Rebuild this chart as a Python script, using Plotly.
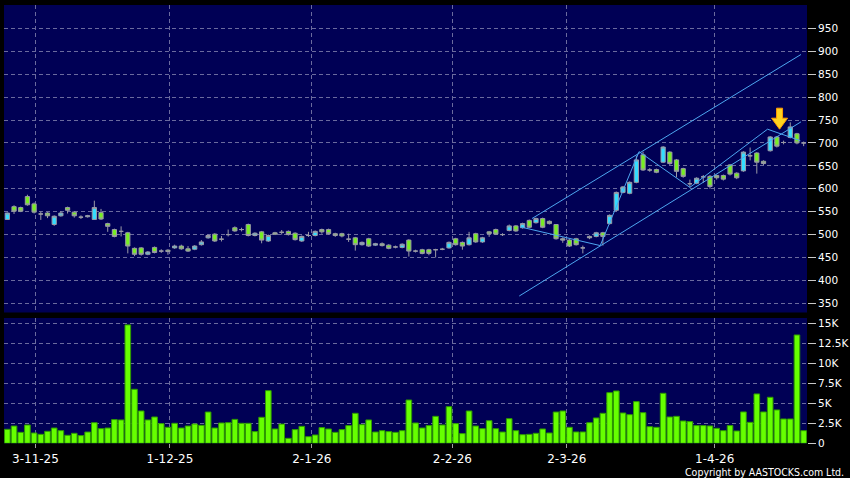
import plotly.graph_objects as go

# ---------------- data ----------------
opens = [533, 561, 559, 583, 567, 545, 547, 522, 541, 559,
         549, 538, 539, 533, 548, 524, 511, 507, 504, 470,
         471, 457, 472, 464, 466, 471, 475, 469, 468, 478,
         493, 501, 490, 500, 515, 511, 522, 498, 506, 486,
         504, 505, 507, 503, 486, 498, 498, 511, 511, 502,
         502, 490, 493, 478, 491, 477, 480, 477, 473, 472,
         488, 464, 467, 467, 467, 468, 471, 491, 483, 478,
         502, 484, 506, 511, 500, 509, 519, 515, 531, 526,
         535, 529, 522, 491, 488, 491, 471, 496, 496, 504,
         524, 553, 592, 590, 614, 674, 641, 642, 658, 680,
         663, 644, 611, 612, 626, 627, 629, 629, 652, 634,
         639, 672, 678, 660, 683, 713, 701, 712, 720, 700]
closes = [547, 551, 551, 565, 549, 545, 541, 540, 547, 553,
          541, 538, 541, 559, 534, 518, 496, 507, 475, 457,
          457, 462, 461, 464, 463, 475, 469, 464, 475, 484,
          498, 486, 490, 500, 508, 511, 498, 503, 488, 498,
          501, 505, 500, 489, 496, 498, 507, 506, 502, 498,
          497, 490, 478, 483, 475, 480, 476, 470, 473, 479,
          464, 464, 459, 459, 467, 468, 483, 478, 475, 493,
          484, 493, 502, 501, 500, 519, 508, 524, 516, 535,
          516, 524, 491, 488, 475, 478, 471, 493, 504, 496,
          542, 592, 604, 614, 663, 641, 641, 636, 691, 655,
          638, 627, 611, 623, 626, 605, 624, 621, 632, 624,
          680, 672, 658, 655, 713, 693, 701, 735, 700, 700]
highs = [548, 564, 561, 587, 570, 550, 549, 542, 551, 561,
         551, 542, 543, 574, 556, 526, 513, 518, 506, 472,
         473, 464, 474, 468, 468, 478, 478, 475, 477, 488,
         500, 503, 497, 511, 518, 515, 524, 505, 508, 500,
         506, 510, 509, 505, 498, 506, 509, 513, 513, 504,
         504, 502, 495, 485, 493, 482, 483, 479, 476, 481,
         490, 467, 469, 469, 469, 471, 485, 493, 485, 506,
         504, 495, 508, 513, 503, 522, 521, 526, 533, 537,
         537, 531, 523, 494, 490, 493, 476, 498, 506, 506,
         544, 594, 606, 616, 672, 681, 645, 644, 693, 682,
         665, 646, 620, 625, 630, 630, 631, 631, 654, 636,
         682, 690, 680, 662, 715, 715, 705, 745, 722, 703]
lows = [532, 545, 549, 563, 546, 532, 536, 519, 539, 546,
        537, 534, 537, 532, 532, 506, 494, 496, 459, 453,
        454, 455, 459, 460, 456, 469, 467, 462, 466, 476,
        491, 484, 485, 496, 506, 507, 496, 496, 481, 484,
        499, 500, 498, 487, 484, 495, 496, 502, 500, 495,
        494, 484, 465, 476, 473, 475, 474, 468, 470, 470,
        452, 461, 457, 455, 450, 466, 469, 476, 467, 476,
        482, 482, 495, 499, 497, 507, 506, 513, 514, 524,
        514, 522, 489, 482, 473, 476, 459, 490, 494, 476,
        522, 551, 590, 588, 612, 639, 637, 634, 656, 652,
        625, 624, 603, 610, 613, 600, 620, 618, 629, 621,
        637, 662, 633, 652, 681, 690, 697, 710, 697, 693]
volumes_k = [1.75, 2.16, 1.37, 2.29, 1.29, 1.12, 1.50, 1.91, 1.58, 1.00,
             1.25, 0.96, 1.41, 2.58, 1.83, 1.91, 2.96, 2.92, 14.8, 6.75,
             4.04, 2.92, 3.29, 2.46, 2.00, 2.50, 1.91, 2.16, 2.41, 2.25,
             3.91, 1.91, 2.54, 2.58, 2.99, 2.50, 2.50, 1.46, 3.25, 6.58,
             1.79, 2.40, 0.62, 1.71, 2.12, 0.83, 1.04, 1.96, 1.79, 1.37,
             1.71, 2.21, 3.75, 2.33, 2.92, 1.41, 1.58, 1.46, 1.37, 1.58,
             5.41, 2.54, 1.91, 2.21, 3.37, 2.29, 4.58, 2.46, 1.21, 4.04,
             2.16, 1.83, 2.83, 1.83, 1.41, 3.08, 1.58, 1.08, 1.12, 1.25,
             1.79, 1.29, 3.91, 4.04, 2.00, 1.42, 1.42, 2.58, 3.17, 3.75,
             6.33, 6.54, 3.79, 3.58, 5.21, 3.83, 2.08, 2.00, 6.25, 3.29,
             3.37, 2.79, 2.71, 2.21, 2.21, 2.17, 1.87, 1.58, 2.21, 1.54,
             3.92, 2.62, 6.17, 3.92, 5.75, 4.17, 3.04, 3.04, 13.54, 1.58]

date_tick_pos = [4.2, 24.3, 45.5, 66.5, 83.6, 105.7]
date_tick_text = ["3-11-25", "1-12-25", "2-1-26", "2-2-26", "2-3-26", "1-4-26"]

price_ticks = [350, 400, 450, 500, 550, 600, 650, 700, 750, 800, 850, 900, 950]
vol_ticks = [0, 2500, 5000, 7500, 10000, 12500, 15000]
vol_tick_text = ["0", "2.5K", "5K", "7.5K", "10K", "12.5K", "15K"]

# trend-line annotations drawn on the chart (bar index, price)
upper_channel_x = [78.4, 118.6]
upper_channel_y = [535, 893]
lower_channel_x = [76.5, 118.6]
lower_channel_y = [366, 746]
zigzag_x = [76.6, 88.6, 94.4, 102.0, 113.6, 118.5]
zigzag_y = [517, 476, 681, 603, 730, 705]
signal_arrow_x = 115.4
signal_arrow_y = 730

# ---------------- figure ----------------
idx = list(range(len(opens)))
volumes = [v * 1000 for v in volumes_k]

BG = "#000055"
GRID = "#6a6a9e"
LINE_BLUE = "#4da6f0"
FONT = "DejaVu Sans"

fig = go.Figure()

fig.add_trace(go.Bar(
    x=idx, y=volumes, xaxis="x", yaxis="y",
    marker=dict(color="#66ff00", line=dict(color="#2e9a00", width=1)),
    showlegend=False, hoverinfo="skip"))

fig.add_trace(go.Candlestick(
    x=idx, open=opens, high=highs, low=lows, close=closes,
    xaxis="x2", yaxis="y2",
    increasing=dict(fillcolor="#33ddff", line=dict(color="#9a9aa6", width=1)),
    decreasing=dict(fillcolor="#77ee22", line=dict(color="#9a9aa6", width=1)),
    whiskerwidth=0, showlegend=False, hoverinfo="skip"))

for xs, ys in [(upper_channel_x, upper_channel_y),
               (lower_channel_x, lower_channel_y),
               (zigzag_x, zigzag_y)]:
    fig.add_trace(go.Scatter(
        x=xs, y=ys, xaxis="x2", yaxis="y2", mode="lines",
        line=dict(color=LINE_BLUE, width=1),
        showlegend=False, hoverinfo="skip"))

# yellow signal arrow (pixel-sized shape anchored at a data point)
fig.add_shape(
    type="path", xref="x2", yref="y2",
    xsizemode="pixel", ysizemode="pixel",
    xanchor=signal_arrow_x, yanchor=signal_arrow_y,
    path="M 0 0 L -8 11 L -3 11 L -3 21 L 3 21 L 3 11 L 8 11 Z",
    fillcolor="#ffd21f", line=dict(color="#ff9a00", width=1))

x_domain = [4 / 850, 807 / 850]
axis_common = dict(showline=False, zeroline=False, griddash="4px,3px",
                   gridcolor=GRID, gridwidth=1, automargin=False)

fig.update_layout(
    width=850, height=478, autosize=False,
    margin=dict(l=0, r=0, t=0, b=0, pad=0, autoexpand=False),
    paper_bgcolor="#000000", plot_bgcolor=BG,
    font=dict(family=FONT, color="#ffffff"),
    bargap=0.16, boxgap=0.1,
    xaxis=dict(domain=x_domain, range=[-0.5, 119.5], anchor="y",
               tickmode="array", tickvals=date_tick_pos, ticktext=date_tick_text,
               ticks="outside", ticklen=4, tickcolor="#a0a0a0",
               tickfont=dict(size=12, color="#ffffff", family=FONT),
               showgrid=True, **axis_common),
    yaxis=dict(domain=[1 - 443.3 / 478, 1 - 318 / 478], range=[0, 15660],
               anchor="x", side="right",
               tickmode="array", tickvals=vol_ticks, ticktext=vol_tick_text,
               ticks="outside", ticklen=8, tickcolor="#c8c8c8",
               tickfont=dict(size=10.5, color="#ffffff", family=FONT),
               showgrid=True, **axis_common),
    xaxis2=dict(domain=x_domain, range=[-0.5, 119.5], anchor="y2", matches="x",
                tickmode="array", tickvals=date_tick_pos, showticklabels=False,
                ticks="", showgrid=True, rangeslider=dict(visible=False),
                **axis_common),
    yaxis2=dict(domain=[1 - 312.5 / 478, 1 - 5 / 478], range=[330, 1001],
                anchor="x2", side="right",
                tickmode="array", tickvals=price_ticks,
                ticks="outside", ticklen=8, tickcolor="#c8c8c8",
                tickfont=dict(size=10.5, color="#ffffff", family=FONT),
                showgrid=True, **axis_common),
)

fig.add_annotation(
    text="Copyright by AASTOCKS.com Ltd.", xref="paper", yref="paper",
    x=846 / 850, y=1 - 471.5 / 478, xanchor="right", yanchor="middle",
    showarrow=False,
    font=dict(size=10.5, color="#ffffff",
              family="DejaVu Sans Condensed, Liberation Sans Narrow, DejaVu Sans"))

fig.write_html(
    "out.html",
    config={"displayModeBar": False},
    post_script="document.body.style.margin='0';document.body.style.padding='0';"
                "document.body.style.overflow='hidden';")
